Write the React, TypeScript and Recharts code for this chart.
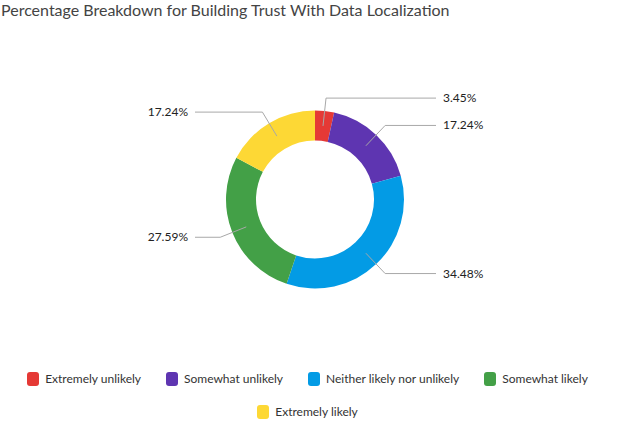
import { PieChart, Pie, Cell } from 'recharts'

const categories = ['Extremely unlikely', 'Somewhat unlikely', 'Neither likely nor unlikely', 'Somewhat likely', 'Extremely likely']
const percentages = [3.45, 17.24, 34.48, 27.59, 17.24]
const colors = ['#E53935', '#5E35B1', '#039BE5', '#43A047', '#FDD835']

const data = categories.map((name, i) => ({ name, value: percentages[i] }))

const RADIAN = Math.PI / 180
const FONT = 'Lato, "Noto Sans", sans-serif'

function renderLabel(props: any) {
    const { cx, cy, midAngle, index } = props
    const cos = Math.cos(-midAngle * RADIAN)
    const sin = Math.sin(-midAngle * RADIAN)
    const sx = cx + 74 * cos
    const sy = cy + 74 * sin
    const mx = cx + 102 * cos
    const my = cy + 102 * sin
    const right = cos >= 0
    const ex = right ? 436 : 195
    return (
        <g key={`lbl-${index}`}>
            <polyline points={`${sx},${sy} ${mx},${my} ${ex},${my}`} fill="none" stroke="#a8a8a8" strokeWidth={1} />
            <text x={right ? ex + 7 : ex - 7} y={my} dy={4} textAnchor={right ? 'start' : 'end'} fill="#222" fontSize={12} fontFamily={FONT}>
                {percentages[index].toFixed(2)}%
            </text>
        </g>
    )
}

function LegendBox() {
    return (
        <div style={{ position: 'absolute', left: 0, top: 372, width: 615, display: 'flex', flexWrap: 'wrap', justifyContent: 'center', columnGap: 25, rowGap: 19, fontFamily: FONT, fontSize: 12, color: '#333', lineHeight: '14px' }}>
            {categories.map((c, i) => (
                <div key={c} style={{ display: 'flex', alignItems: 'center', gap: 6 }}>
                    <span style={{ width: 12, height: 14, borderRadius: 3, backgroundColor: colors[i], display: 'inline-block' }} />
                    <span>{c}</span>
                </div>
            ))}
        </div>
    )
}

export default function App() {
    return (
        <div style={{ position: 'relative', width: 637, height: 430, background: '#fff' }}>
            <style>{'body{margin:0}'}</style>
            <div style={{ position: 'absolute', left: 1, top: 0, fontFamily: FONT, fontSize: 16, color: '#444', lineHeight: '20px' }}>
                Percentage Breakdown for Building Trust With Data Localization
            </div>
            <PieChart width={637} height={430} margin={{ top: 0, right: 0, bottom: 0, left: 0 }}>
                <Pie
                    data={data}
                    dataKey="value"
                    nameKey="name"
                    cx={315}
                    cy={199.5}
                    innerRadius={59}
                    outerRadius={89}
                    startAngle={90}
                    endAngle={-270}
                    stroke="none"
                    label={renderLabel}
                    labelLine={false}
                    isAnimationActive={false}
                >
                    {data.map((d, i) => (
                        <Cell key={d.name} fill={colors[i]} />
                    ))}
                </Pie>
            </PieChart>
            <LegendBox />
        </div>
    )
}
